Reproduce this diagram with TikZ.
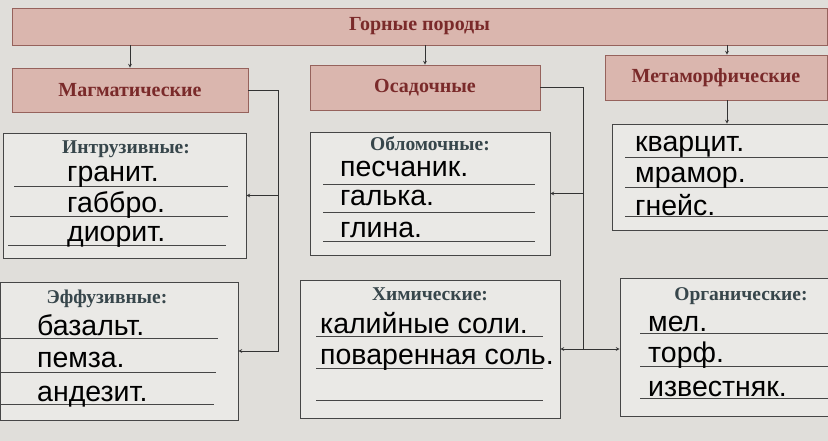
\documentclass[tikz,border=0pt]{standalone}
\usepackage{fontspec}
\setmainfont{Liberation Serif}
\newfontfamily\handfont{Liberation Sans}
\usepackage{tikz}

\definecolor{paper}{RGB}{224,222,218}
\definecolor{boxfill}{RGB}{234,233,230}
\definecolor{pinkfill}{RGB}{218,182,174}
\definecolor{pinkdraw}{RGB}{150,98,92}
\definecolor{redtext}{RGB}{122,42,42}
\definecolor{slatetext}{RGB}{55,70,75}
\definecolor{linecol}{RGB}{70,70,70}

\begin{document}
\begin{tikzpicture}[x=1pt, y=-1pt, >=stealth,
		topbox/.style={draw=pinkdraw, fill=pinkfill, line width=0.8pt, inner sep=0pt, text=redtext, font=\bfseries\fontsize{20}{20}\selectfont},
		listbox/.style={draw=linecol, fill=boxfill, line width=0.8pt, inner sep=0pt},
		boxtitle/.style={anchor=base, inner sep=0pt, text=slatetext, font=\bfseries\fontsize{19.5}{19.5}\selectfont},
		word/.style={anchor=base west, inner sep=0pt, font=\handfont\fontsize{28.5}{28.5}\selectfont},
		rule/.style={draw=linecol, line width=0.6pt},
		conn/.style={draw=black!80, line width=0.7pt}
	]

	\useasboundingbox (0,0) rectangle (828,441);
	\fill[paper] (0,0) rectangle (828,441);

	% top row
	\node[topbox, minimum width=815pt, minimum height=37pt] (rocks) at (419.5,26.5) {Горные породы};
	\node[topbox, minimum width=236pt, minimum height=44pt] (magm) at (130,90) {Магматические};
	\node[topbox, minimum width=230pt, minimum height=45pt] (osad) at (425,87.5) {Осадочные};
	\node[topbox, minimum width=222pt, minimum height=45pt] (metam) at (716,77.5) {Метаморфические};

	\coordinate (mtarrow) at (727,0);
	\draw[conn,->] (rocks.south -| magm.north) -- (magm.north);
	\draw[conn,->] (rocks.south -| osad.north) -- (osad.north);
	\draw[conn,->] (rocks.south -| mtarrow) -- (metam.north -| mtarrow);

	% list boxes
	\node[listbox, minimum width=243pt, minimum height=125pt] (intr) at (124.5,195.5) {};
	\node[listbox, minimum width=240pt, minimum height=123pt] (oblom) at (430,193.5) {};
	\node[listbox, minimum width=216pt, minimum height=106pt] (metlist) at (720,177) {};
	\node[listbox, minimum width=238pt, minimum height=138pt] (effuz) at (119,351) {};
	\node[listbox, minimum width=260pt, minimum height=138pt] (chem) at (430,349) {};
	\node[listbox, minimum width=208pt, minimum height=138pt] (organ) at (724,347) {};

	% writing rules
	\draw[rule] (14,186) -- (228,186);
	\draw[rule] (10,216) -- (228,216);
	\draw[rule] (8,245) -- (226,245);

	\draw[rule] (323,184) -- (535,184);
	\draw[rule] (323,212) -- (535,212);
	\draw[rule] (323,241) -- (535,241);

	\draw[rule] (625,157) -- (828,157);
	\draw[rule] (625,187) -- (828,187);
	\draw[rule] (625,216) -- (828,216);

	\draw[rule] (0,338) -- (218,338);
	\draw[rule] (0,372) -- (216,372);
	\draw[rule] (0,404) -- (214,404);

	\draw[rule] (316,336) -- (543,336);
	\draw[rule] (316,368) -- (543,368);
	\draw[rule] (316,400) -- (543,400);

	\draw[rule] (640,333) -- (828,333);
	\draw[rule] (640,366) -- (828,366);
	\draw[rule] (640,398) -- (828,398);

	% titles and words
	\node[boxtitle] (intrT) at (126,154) {Интрузивные:};
	\node[word] (w1) at (67,182) {гранит.};
	\node[word] (w2) at (67,212) {габбро.};
	\node[word] (w3) at (67,241) {диорит.};

	\node[boxtitle] (oblomT) at (430,151) {Обломочные:};
	\node[word] (w4) at (340,177) {песчаник.};
	\node[word] (w5) at (340,206) {галька.};
	\node[word] (w6) at (340,237) {глина.};

	\node[word] (w7) at (635,152) {кварцит.};
	\node[word] (w8) at (635,183) {мрамор.};
	\node[word] (w9) at (635,215) {гнейс.};

	\node[boxtitle] (effuzT) at (107,303) {Эффузивные:};
	\node[word] (w10) at (37,335) {базальт.};
	\node[word] (w11) at (37,367) {пемза.};
	\node[word] (w12) at (37,401) {андезит.};

	\node[boxtitle] (chemT) at (430,300) {Химические:};
	\node[word] (w13) at (320,333) {калийные соли.};
	\node[word] (w14) at (320,364) {поваренная соль.};

	\node[boxtitle] (organT) at (741,300) {Органические:};
	\node[word] (w15) at (648,331) {мел.};
	\node[word] (w16) at (648,362) {торф.};
	\node[word] (w17) at (648,396) {известняк.};

	% connectors
	\draw[conn,->] (metam.south -| mtarrow) -- (metlist.north -| mtarrow);

	\coordinate (mbend) at (278,90);
	\draw[conn,->] (magm.east) -- (mbend) |- (effuz.east);
	\draw[conn,->] (mbend |- intr.east) -- (intr.east);

	\coordinate (obend) at (583,87.5);
	\draw[conn] (osad.east) -- (obend) -- (obend |- chem.east);
	\draw[conn,->] (obend |- oblom.east) -- (oblom.east);
	\draw[conn,<->] (chem.east) -- (chem.east -| organ.west);

\end{tikzpicture}
\end{document}
